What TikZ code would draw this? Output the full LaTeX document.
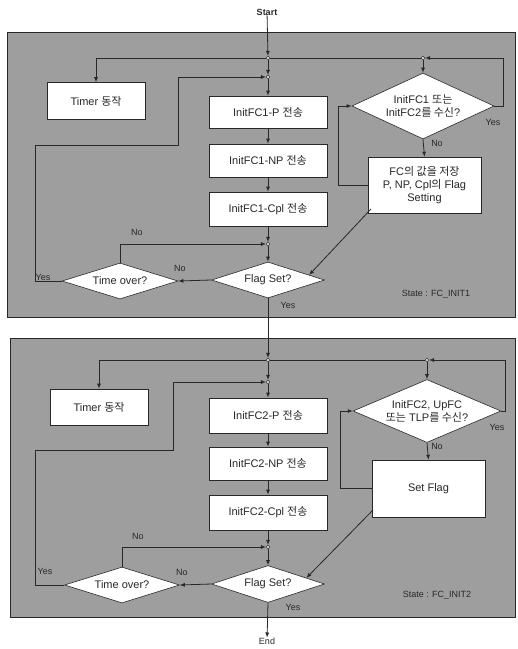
\documentclass[tikz,border=0pt]{standalone}
\usepackage{fontspec}
\setmainfont{Liberation Sans}
\newfontfamily\krfont{Noto Sans CJK KR}
\newcommand\ko[1]{{\krfont #1}}
\usetikzlibrary{shapes.geometric,arrows.meta}
\definecolor{panelgray}{RGB}{158,158,158}
\definecolor{ink}{RGB}{40,40,40}
\tikzset{
 panel/.style={fill=panelgray,draw=ink,line width=0.9pt},
 proc/.style={draw=ink,fill=white,line width=0.6pt,minimum width=118pt,minimum height=33pt,inner sep=1pt,font=\fontsize{11}{13}\selectfont,align=center,text=ink},
 dec/.style={diamond,draw=ink,fill=white,line width=0.6pt,inner sep=0pt,aspect=3,font=\fontsize{11}{13}\selectfont,align=center,text=ink},
 flow/.style={draw=ink,line width=0.8pt,-{Latex[length=5pt,width=4pt]}},
 plain/.style={draw=ink,line width=0.8pt},
 junc/.style={circle,draw=ink,fill=white,inner sep=0pt,minimum size=3.5pt,line width=0.6pt},
 lbl/.style={font=\fontsize{9}{10}\selectfont,text=ink,inner sep=0pt},
}
\begin{document}
\begin{tikzpicture}[x=1pt,y=-1pt]
\useasboundingbox (0,0) rectangle (518,649);
\fill[white] (0,0) rectangle (518,649);
% panels
\draw[panel] (7,32) rectangle (515,317);
\draw[panel] (10,338) rectangle (515,617);
% terminals
\node[lbl,font=\fontsize{9}{10}\selectfont\bfseries] (start) at (267,12) {Start};
\node[lbl] (end) at (267,641) {End};

% ===== panel 1 =====
\node[junc] (j1) at (268,58) {};
\node[junc] (j2) at (268,77) {};
\node[junc] (rj1) at (423,58) {};
\node[junc] (j3) at (268,244) {};
\node[proc,minimum width=98pt,minimum height=37pt] (timer1) at (96,101) {Timer \ko{동작}};
\node[proc,minimum height=32pt] (p1) at (268,112) {InitFC1-P \ko{전송}};
\node[proc] (np1) at (268,160.5) {InitFC1-NP \ko{전송}};
\node[proc,minimum height=34pt] (cpl1) at (268,209) {InitFC1-Cpl \ko{전송}};
\node[dec,minimum width=113pt,minimum height=36pt] (flag1) at (268,280) {Flag Set?};
\node[dec,minimum width=116pt,minimum height=36pt] (time1) at (120,281) {Time over?};
\node[dec,minimum width=130pt,minimum height=66pt] (rdia1) at (423,106) {InitFC1 \ko{또는}\\InitFC2\ko{를 수신}?};
\node[proc,minimum width=113pt,minimum height=56pt] (fc1) at (424.5,185) {FC\ko{의 값을 저장}\\P, NP, Cpl\ko{의} Flag\\Setting};
\coordinate (r1) at (503,58);
\coordinate (l1) at (338,106);
\coordinate (ya1) at (35,145);
\coordinate (yb1) at (178,145);
\coordinate (d1) at (371,209);

\draw[flow] (start) -- (j1);
\draw[flow] (j1) -- (j2);
\draw[flow] (j2) -- (p1);
\draw[flow] (j1) -| (timer1.north);
\draw[plain] (j1) -- (rj1);
\draw[flow] (rj1) -- (rdia1.north);
\draw[flow] (rdia1.east) -| (r1) -- (rj1);
\draw[flow] (rdia1.south) -- (fc1.north);
\draw[flow] (fc1.west) -- (fc1.west -| l1) |- (rdia1.west);
\draw[flow] (d1) -- (flag1.7);
\draw[flow] (p1) -- (np1);
\draw[flow] (np1) -- (cpl1);
\draw[flow] (cpl1) -- (j3);
\draw[flow] (j3) -- (flag1);
\draw[flow] (flag1.west) -- (time1.east);
\draw[flow] (time1.north) |- (j3);
\draw[flow] (time1.west) -| (ya1) -- (yb1) |- (j2);

\node[lbl] at (493,122) {Yes};
\node[lbl] at (437,143) {No};
\node[lbl] at (137,232) {No};
\node[lbl] at (180,268) {No};
\node[lbl] at (43,277) {Yes};
\node[lbl] at (288,305) {Yes};
\node[lbl] at (436,294) {State : FC\_INIT1};

% ===== panel 2 =====
\node[junc] (j4) at (268,360) {};
\node[junc] (j5) at (268,382) {};
\node[junc] (rj2) at (427,360) {};
\node[junc] (j6) at (268,547) {};
\node[proc,minimum width=98pt,minimum height=36pt] (timer2) at (99,407) {Timer \ko{동작}};
\node[proc,minimum height=35pt] (p2) at (268,415.5) {InitFC2-P \ko{전송}};
\node[proc] (np2) at (268,463.5) {InitFC2-NP \ko{전송}};
\node[proc,minimum height=35pt] (cpl2) at (268,512.5) {InitFC2-Cpl \ko{전송}};
\node[dec,minimum width=113pt,minimum height=37pt] (flag2) at (268,584) {Flag Set?};
\node[dec,minimum width=115pt,minimum height=36pt] (time2) at (122,585) {Time over?};
\node[dec,minimum width=128pt,minimum height=63pt] (rdia2) at (427,411) {InitFC2, UpFC\\\ko{또는} TLP\ko{를 수신}?};
\node[proc,minimum width=113pt,minimum height=57pt] (sf2) at (428.5,488.5) {Set Flag};
\coordinate (r2) at (505,360);
\coordinate (l2) at (340,411);
\coordinate (ya2) at (35,450);
\coordinate (yb2) at (173,450);
\coordinate (d2) at (373,510);

\draw[flow] (flag1.south) -- (j4);
\draw[flow] (j4) -- (j5);
\draw[flow] (j5) -- (p2);
\draw[flow] (j4) -| (timer2.north);
\draw[plain] (j4) -- (rj2);
\draw[flow] (rj2) -- (rdia2.north);
\draw[flow] (rdia2.east) -| (r2) -- (rj2);
\draw[flow] (rdia2.south) -- (sf2.north);
\draw[flow] (sf2.west) -- (sf2.west -| l2) |- (rdia2.west);
\draw[flow] (d2) -- (flag2.9);
\draw[flow] (p2) -- (np2);
\draw[flow] (np2) -- (cpl2);
\draw[flow] (cpl2) -- (j6);
\draw[flow] (j6) -- (flag2);
\draw[flow] (flag2.west) -- (time2.east);
\draw[flow] (time2.north) |- (j6);
\draw[flow] (time2.west) -| (ya2) -- (yb2) |- (j5);
\draw[flow] (flag2.south) -- (end);

\node[lbl] at (497,427) {Yes};
\node[lbl] at (437,446) {No};
\node[lbl] at (138,536) {No};
\node[lbl] at (182,572) {No};
\node[lbl] at (45,571) {Yes};
\node[lbl] at (293,607) {Yes};
\node[lbl] at (437,595) {State : FC\_INIT2};
\end{tikzpicture}
\end{document}
